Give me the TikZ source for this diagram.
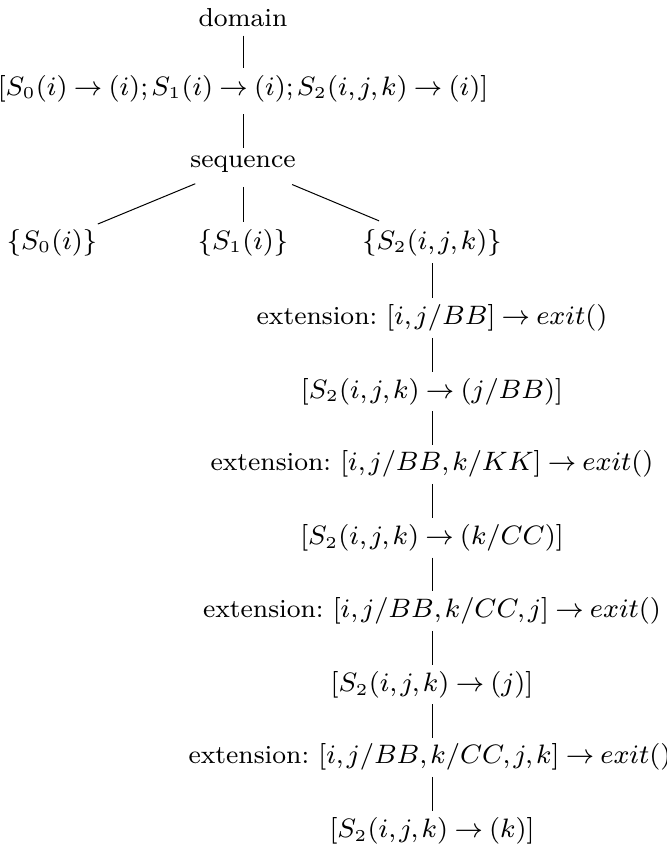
\documentclass[tikz,border=0pt]{standalone}
\usetikzlibrary{calc}
\thickmuskip=4mu plus 2mu
\thinmuskip=2mu
\frenchspacing
\begin{document}
\begin{tikzpicture}[x=0.3pt,y=-0.3pt,
  lbl/.style={inner sep=0pt,font=\fontsize{7.8}{10}\selectfont},
  edge/.style={line width=0.3pt}]
\useasboundingbox (0,0) rectangle (667,864);
\node[lbl] (dom) at (243,18) {domain};
\node[lbl] (root) at (243,89) {$[S_0(i) \rightarrow (i); S_1(i) \rightarrow (i); S_2(i,j,k) \rightarrow (i)]$};
\node[lbl] (seq) at (243,164) {sequence};
\node[lbl] (c0) at (52,243) {$\{S_0(i)\}$};
\node[lbl] (c1) at (243,243) {$\{S_1(i)\}$};
\node[lbl] (c2) at (432,243) {$\{S_2(i,j,k)\}$};
\node[lbl] (e1) at (432,318) {extension: $[i,j/BB] \rightarrow exit()$};
\node[lbl] (s1) at (432,392) {$[S_2(i,j,k) \rightarrow (j/BB)]$};
\node[lbl] (e2) at (432,464) {extension: $[i,j/BB,k/KK] \rightarrow exit()$};
\node[lbl] (s2) at (432,538) {$[S_2(i,j,k) \rightarrow (k/CC)]$};
\node[lbl] (e3) at (432,611) {extension: $[i,j/BB,k/CC,j] \rightarrow exit()$};
\node[lbl] (s3) at (432,685) {$[S_2(i,j,k) \rightarrow (j)]$};
\node[lbl] (e4) at (430,757) {extension: $[i,j/BB,k/CC,j,k] \rightarrow exit()$};
\node[lbl] (s4) at (432,831) {$[S_2(i,j,k) \rightarrow (k)]$};
% edges
\draw[edge] ($(dom)!0.25!(root)$) -- ($(dom)!0.71!(root)$);
\draw[edge] ($(root)!0.34!(seq)$) -- ($(root)!0.79!(seq)$);
\draw[edge] ($(seq)!0.25!(c0)$) -- ($(seq)!0.76!(c0)$);
\draw[edge] ($(seq)!0.29!(c1)$) -- ($(seq)!0.74!(c1)$);
\draw[edge] ($(seq)!0.26!(c2)$) -- ($(seq)!0.72!(c2)$);
\foreach \a/\b in {c2/e1,e1/s1,s1/e2,e2/s2,s2/e3,e3/s3,s3/e4,e4/s4}{
  \draw[edge] ($(c2|-\a)!0.27!(c2|-\b)$) -- ($(c2|-\a)!0.73!(c2|-\b)$);
}
\end{tikzpicture}
\end{document}
